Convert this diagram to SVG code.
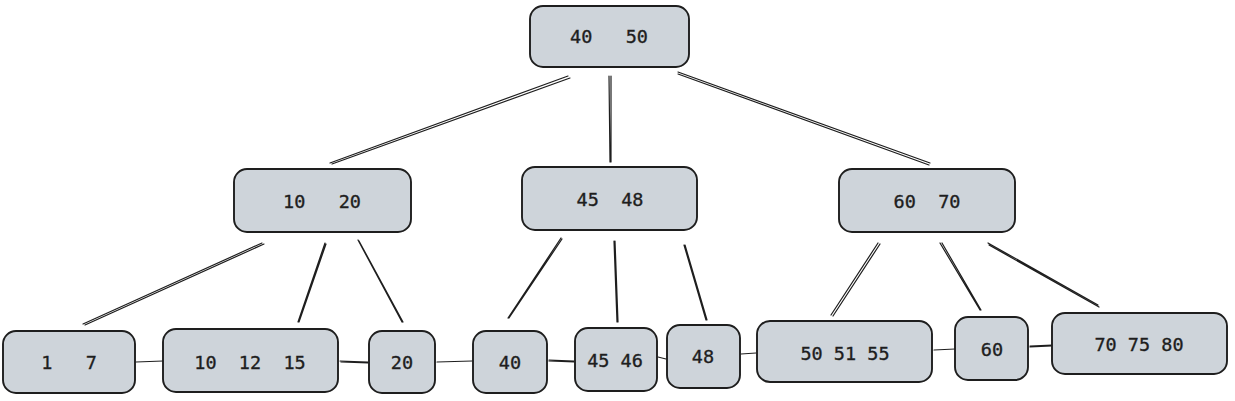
<svg xmlns="http://www.w3.org/2000/svg" width="1235" height="401" viewBox="0 0 1235 401">
<style>
.box{fill:#ced4da;stroke:#1e1e1e;stroke-width:1.9}
.t{font-family:"DejaVu Sans Mono","Liberation Mono",monospace;font-size:18.5px;fill:#1e1e1e;stroke:#1e1e1e;stroke-width:0.35;text-anchor:middle;dominant-baseline:central;white-space:pre}
.e{fill:none;stroke:#1e1e1e;stroke-width:1.2;stroke-linecap:round}
</style>
<rect width="1235" height="401" fill="#ffffff"/>
<g id="connectors">
<path class="e" d="M568 76 L330 163 M570 78 L332 164"/>
<path class="e" d="M609 76 L610 162 M611 76 L611 162"/>
<path class="e" d="M678 72 L930 163 M678 74 L929 165"/>
<path class="e" d="M262 243 L83 324 M264 244 L85 325"/>
<path class="e" d="M325 243 L298 322 M326 244 L299 322"/>
<path class="e" d="M358 240 L402 322 M359 241 L403 322"/>
<path class="e" d="M561 238 L508 318 M562 239 L509 318"/>
<path class="e" d="M614 241 L617 322 M615 241 L618 322"/>
<path class="e" d="M684 245 L706 320 M685 245 L707 320"/>
<path class="e" d="M878 243 L831 315 M880 244 L833 316"/>
<path class="e" d="M940 243 L980 310 M942 243 L981 310"/>
<path class="e" d="M988 243 L1098 305 M989 245 L1099 307"/>
<path class="e" d="M136 362 L163 361"/>
<path class="e" d="M340 361 L368 362 M341 362 L368 363"/>
<path class="e" d="M437 362 L472 361"/>
<path class="e" d="M549 360 L574 361 M549 361 L574 362"/>
<path class="e" d="M658 357 L666 359"/>
<path class="e" d="M741 354 L756 353"/>
<path class="e" d="M934 350 L955 349"/>
<path class="e" d="M1030 346 L1052 345 M1030 347 L1052 346"/>
</g>
<g id="root"><rect class="box" x="530" y="6" width="159" height="61" rx="13"/><text class="t" x="609" y="36">40   50</text></g>
<g id="n1020"><rect class="box" x="234" y="169" width="177" height="63" rx="13"/><text class="t" x="322" y="201">10   20</text></g>
<g id="n4548"><rect class="box" x="522" y="167" width="175" height="63" rx="13"/><text class="t" x="610" y="199">45  48</text></g>
<g id="n6070"><rect class="box" x="839" y="169" width="176" height="63" rx="13"/><text class="t" x="927" y="201">60  70</text></g>
<g id="l17"><rect class="box" x="3" y="331" width="132" height="62" rx="13"/><text class="t" x="69" y="362">1   7</text></g>
<g id="l101215"><rect class="box" x="163" y="329" width="175" height="63" rx="13"/><text class="t" x="250" y="362">10  12  15</text></g>
<g id="l20"><rect class="box" x="369" y="331" width="66" height="62" rx="13"/><text class="t" x="402" y="362">20</text></g>
<g id="l40"><rect class="box" x="473" y="331" width="74" height="62" rx="13"/><text class="t" x="510" y="362">40</text></g>
<g id="l4546"><rect class="box" x="575" y="328" width="82" height="63" rx="13"/><text class="t" x="615" y="360">45 46</text></g>
<g id="l48"><rect class="box" x="667" y="325" width="73" height="63" rx="13"/><text class="t" x="703" y="356">48</text></g>
<g id="l505155"><rect class="box" x="757" y="321" width="175" height="61" rx="13"/><text class="t" x="845" y="353">50 51 55</text></g>
<g id="l60"><rect class="box" x="955" y="317" width="73" height="63" rx="13"/><text class="t" x="992" y="349">60</text></g>
<g id="l707580"><rect class="box" x="1052" y="313" width="175" height="61" rx="13"/><text class="t" x="1139" y="344">70 75 80</text></g>
</svg>
